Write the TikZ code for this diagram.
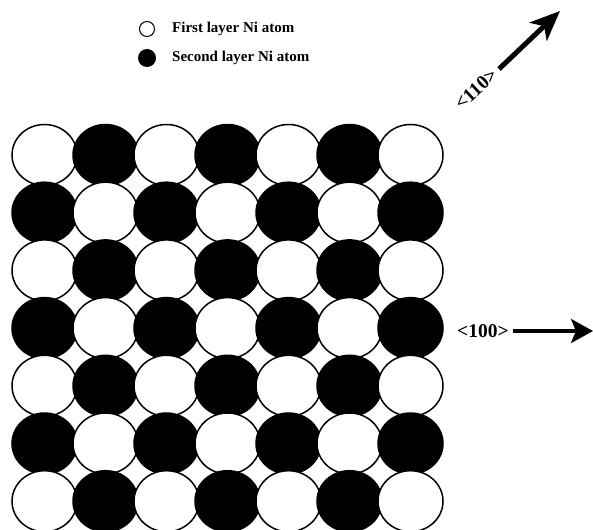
\documentclass[tikz,border=0pt]{standalone}
\usepackage{fontspec}
\setmainfont{Liberation Serif}
\usetikzlibrary{arrows.meta,shapes.geometric}
\tikzset{
  atom/.style={ellipse, draw=black, line width=1.5pt, minimum width=65pt, minimum height=61pt, inner sep=0pt},
  white atom/.style={atom, fill=white},
  black atom/.style={atom, fill=black},
  legend text/.style={anchor=west, font=\bfseries\fontsize{15}{17}\selectfont, inner sep=0pt},
  dir text/.style={font=\bfseries\fontsize{19.5}{21}\selectfont, inner sep=0pt},
  dir arrow/.style={line width=5pt, -{Stealth[length=30pt, width=25pt, inset=8pt]}},
}
\begin{document}
\begin{tikzpicture}[x=1pt, y=-1pt]
\useasboundingbox (0,0) rectangle (593,529);
\clip (0,0) rectangle (593,529);
% legend
\node[draw=black, line width=1pt, fill=white, circle, minimum size=15pt, inner sep=0pt] (lw) at (147,29) {};
\node[fill=black, circle, minimum size=18pt, inner sep=0pt] (lb) at (147,58) {};
\node[legend text] (tw) at (172,29) {First layer Ni atom};
\node[legend text] (tb) at (172,58) {Second layer Ni atom};
% lattice
\foreach \i in {0,...,6}{
  \foreach \j in {0,...,6}{
    \pgfmathtruncatemacro{\myparity}{mod(\i+\j,2)}
    \ifnum\myparity=0
      \node[white atom] (a-\i-\j) at ({44.5+61*\j},{155+57.7*\i}) {};
    \else
      \node[black atom] (a-\i-\j) at ({44.5+61*\j},{155+57.7*\i}) {};
    \fi
  }
}
% <110> arrow
\coordinate (s110) at (499,69);
\coordinate (e110) at (560,11);
\draw[dir arrow] (s110) -- (e110);
\node[dir text, rotate=43] (l110) at (476,89) {<110>};
% <100> arrow
\node[dir text, anchor=west] (l100) at (457,331) {<100>};
\coordinate (e100) at (593,331);
\draw[line width=3.5pt, -{Stealth[length=22pt, width=24pt, inset=5pt]}] ([xshift=4pt]l100.east) -- (e100);
\end{tikzpicture}
\end{document}
